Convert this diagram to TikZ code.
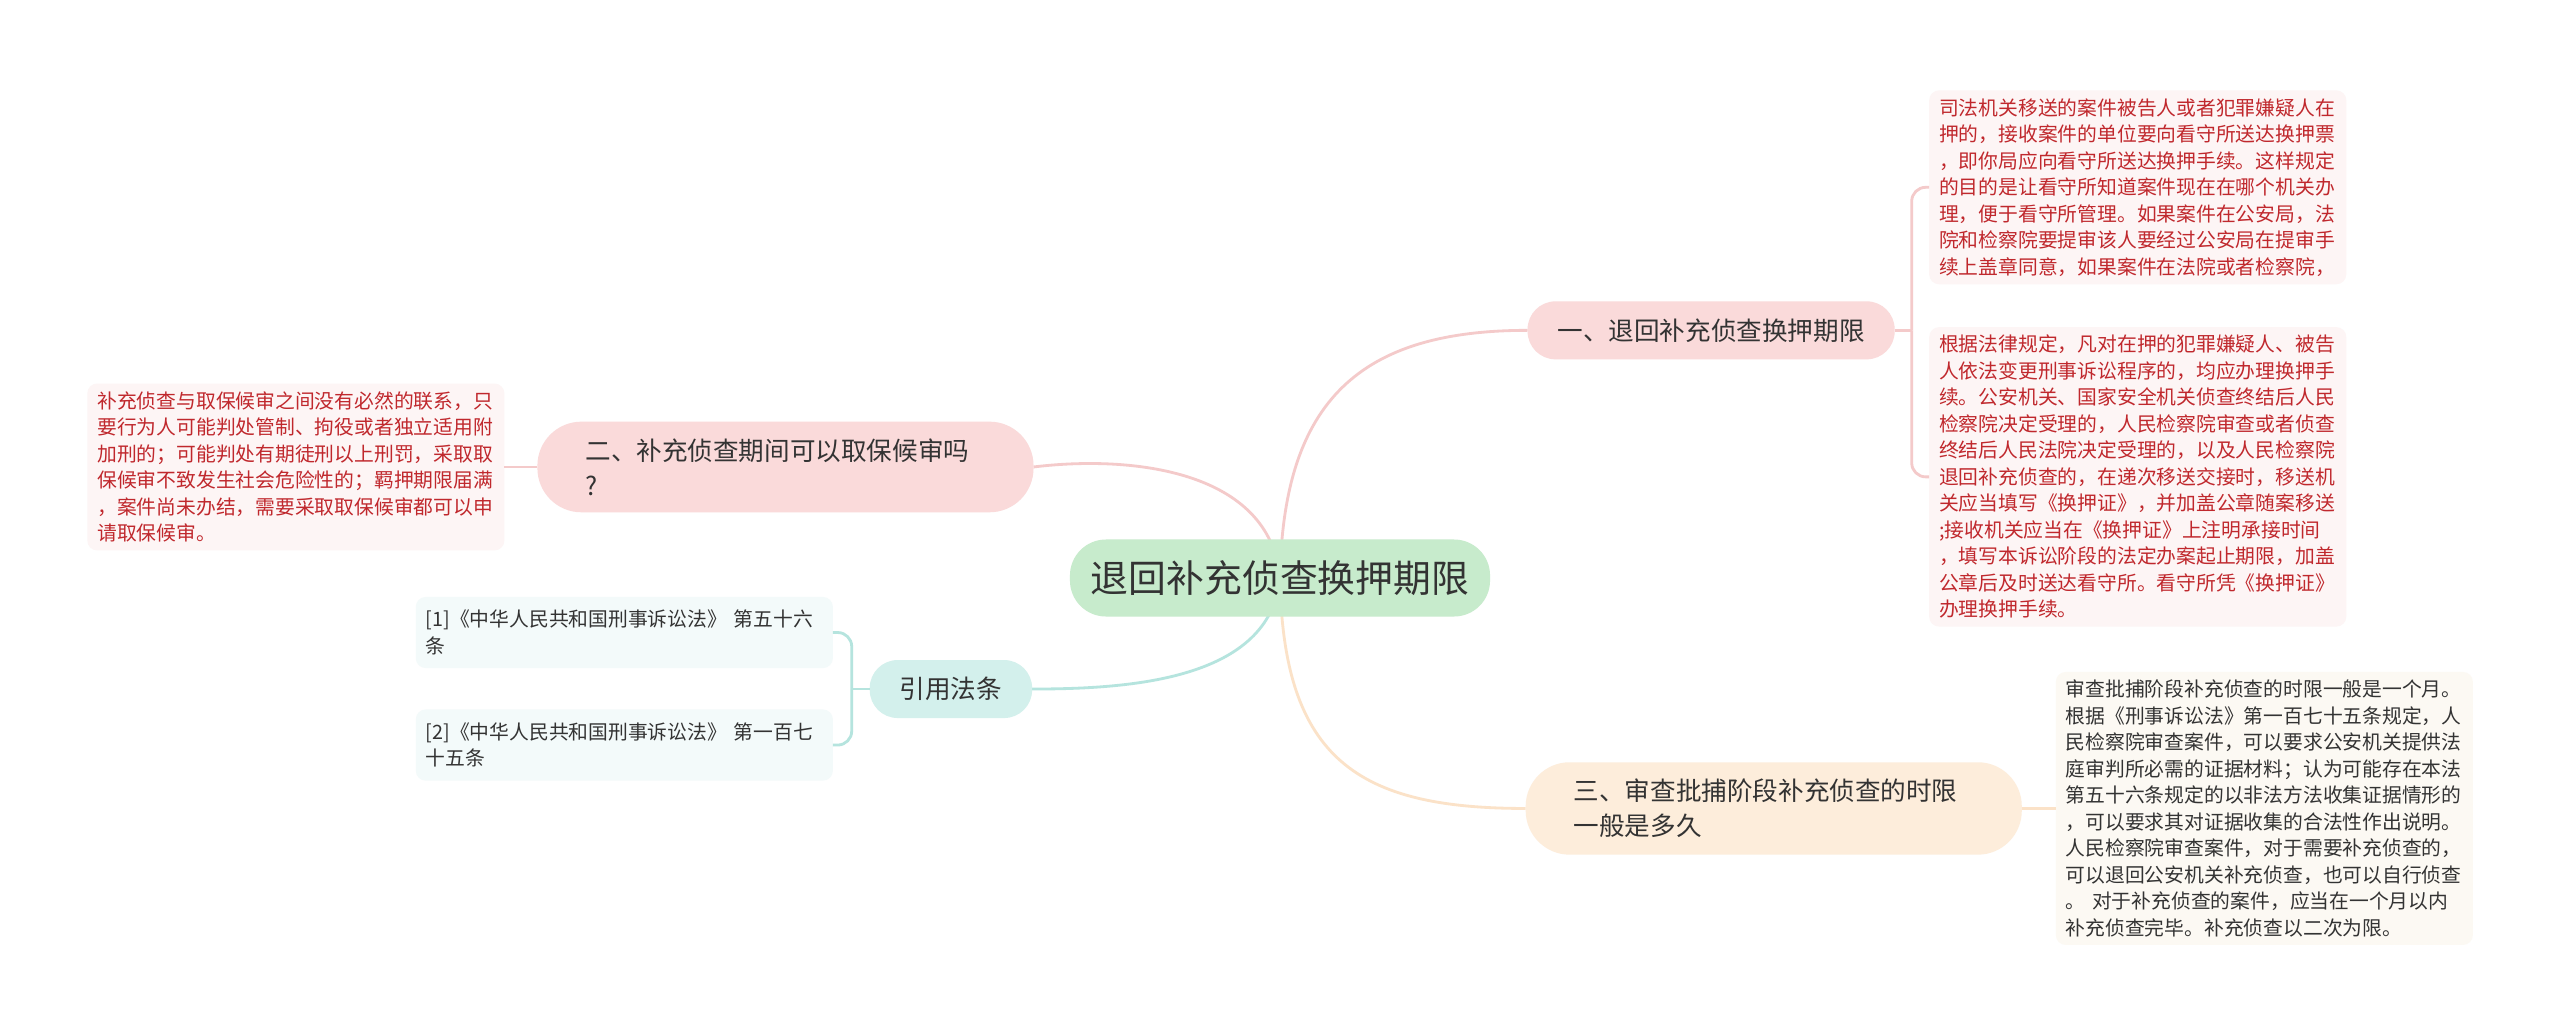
\documentclass[tikz,border=0pt]{standalone}
\usepackage{fontspec}
\newfontfamily\cjk{Noto Sans CJK SC}
\usetikzlibrary{positioning,backgrounds}
\definecolor{rootfill}{HTML}{C7EBCC}
\definecolor{pinkfill}{HTML}{FADADA}
\definecolor{tealfill}{HTML}{D3F0EC}
\definecolor{peachfill}{HTML}{FDEDDB}
\definecolor{redbg}{HTML}{FDF5F5}
\definecolor{citebg}{HTML}{F3FAFA}
\definecolor{notebg}{HTML}{FCF9F3}
\definecolor{redtext}{HTML}{C0282D}
\definecolor{darktext}{HTML}{333333}
\definecolor{pinkline}{HTML}{F4CACA}
\definecolor{tealline}{HTML}{B5E4DE}
\definecolor{peachline}{HTML}{FBE2C8}

\begin{document}
\begin{tikzpicture}
[x=0.025cm,y=-0.025cm,
 every node/.style={inner sep=0mm,outer sep=0mm,text=darktext},
 root/.style={fill=rootfill,rounded corners=0.9cm,minimum width=10.5cm,minimum height=1.925cm,
   font=\cjk\fontsize{26.9pt}{30pt}\selectfont},
 topic/.style={rounded corners=0.7cm,inner xsep=0.75cm,minimum height=1.45cm,
   font=\cjk\fontsize{18.2pt}{24.9pt}\selectfont},
 topictwo/.style={rounded corners=1.1cm,inner xsep=1.2cm,inner ysep=0.42cm,text width=10cm,align=left,
   font=\cjk\fontsize{18.2pt}{24.9pt}\selectfont},
 leaf/.style={rounded corners=0.25cm,inner xsep=0.25cm,inner ysep=0.2cm,text width=9.925cm,align=left,
   font=\cjk\fontsize{14.07pt}{18.85pt}\selectfont},
 redleaf/.style={leaf,fill=redbg,text=redtext},
 citeleaf/.style={leaf,fill=citebg,inner ysep=0.33cm},
 noteleaf/.style={leaf,fill=notebg},
 link/.style={line width=2pt}]
\useasboundingbox (0,0) rectangle (2560,1033);

\node[root] (root) at (1280,578) {退回补充侦查换押期限};

\node[topic,fill=pinkfill]     (b1) [on grid,above right=6.19cm and 10.775cm of root] {一、退回补充侦查换押期限};
\node[topictwo,fill=pinkfill]  (b2) [on grid,above  left=2.775cm and 12.36cm of root] {二、补充侦查期间可以取保候审吗\\?};
\node[topic,fill=tealfill]     (b3) [on grid,below  left=2.775cm and 8.225cm of root] {引用法条};
\node[topictwo,fill=peachfill] (b4) [on grid,below right=5.76cm and 12.34cm of root]  {三、审查批捕阶段补充侦查的时限\\一般是多久};

\coordinate[right=0.425cm of b1.east] (j1);
\coordinate[left=0.45cm of b3.west] (j3);

\node[redleaf] (l1a) [on grid,above right=3.575cm and 10.6625cm of b1] {司法机关移送的案件被告人或者犯罪嫌疑人在\\押的，接收案件的单位要向看守所送达换押票\\，即你局应向看守所送达换押手续。这样规定\\的目的是让看守所知道案件现在在哪个机关办\\理，便于看守所管理。如果案件在公安局，法\\院和检察院要提审该人要经过公安局在提审手\\续上盖章同意，如果案件在法院或者检察院，};
\node[redleaf] (l1b) [on grid,below right=3.6625cm and 10.6625cm of b1] {根据法律规定，凡对在押的犯罪嫌疑人、被告\\人依法变更刑事诉讼程序的，均应办理换押手\\续。公安机关、国家安全机关侦查终结后人民\\检察院决定受理的，人民检察院审查或者侦查\\终结后人民法院决定受理的，以及人民检察院\\退回补充侦查的，在递次移送交接时，移送机\\关应当填写《换押证》，并加盖公章随案移送\\;接收机关应当在《换押证》上注明承接时间\\，填写本诉讼阶段的法定办案起止期限，加盖\\公章后及时送达看守所。看守所凭《换押证》\\办理换押手续。};
\node[redleaf] (l2) [left=0.825cm of b2] {补充侦查与取保候审之间没有必然的联系，只\\要行为人可能判处管制、拘役或者独立适用附\\加刑的；可能判处有期徒刑以上刑罚，采取取\\保候审不致发生社会危险性的；羁押期限届满\\，案件尚未办结，需要采取取保候审都可以申\\请取保候审。};
\node[citeleaf] (l3a) [on grid,above left=1.4125cm and 8.1625cm of b3] {[1]《中华人民共和国刑事诉讼法》 第五十六\\条};
\node[citeleaf] (l3b) [on grid,below left=1.4cm and 8.1625cm of b3] {[2]《中华人民共和国刑事诉讼法》 第一百七\\十五条};
\node[noteleaf] (l4) [right=0.85cm of b4] {审查批捕阶段补充侦查的时限一般是一个月。\\根据《刑事诉讼法》第一百七十五条规定，人\\民检察院审查案件，可以要求公安机关提供法\\庭审判所必需的证据材料；认为可能存在本法\\第五十六条规定的以非法方法收集证据情形的\\，可以要求其对证据收集的合法性作出说明。\\人民检察院审查案件，对于需要补充侦查的，\\可以退回公安机关补充侦查，也可以自行侦查\\。 对于补充侦查的案件，应当在一个月以内\\补充侦查完毕。补充侦查以二次为限。};

\begin{scope}[on background layer]
\fill[white] (0,0) rectangle (2560,1033);
\draw[link,pinkline]  (root.center) .. controls +(3,-178) and +(-167,0) .. (b1.west);
\draw[link,pinkline]  (root.center) .. controls +(-10,-108) and +(98,-12) .. (b2.east);
\draw[link,tealline]  (root.center) .. controls +(-10,102) and +(98,0) .. (b3.east);
\draw[link,peachline] (root.center) .. controls +(3,182) and +(-167,0) .. (b4.west);
\end{scope}

\draw[link,pinkline] (b1.east) -- (j1);
\draw[link,pinkline,rounded corners=0.35cm] (j1) |- (l1a.west);
\draw[link,pinkline,rounded corners=0.35cm] (j1) |- (l1b.west);
\draw[link,pinkline] (b2.west) -- (l2.east);
\draw[link,tealline] (b3.west) -- (j3);
\draw[link,tealline,rounded corners=0.35cm] (j3) |- (l3a.east);
\draw[link,tealline,rounded corners=0.35cm] (j3) |- (l3b.east);
\draw[link,peachline] (b4.east) -- (l4.west);
\end{tikzpicture}
\end{document}
